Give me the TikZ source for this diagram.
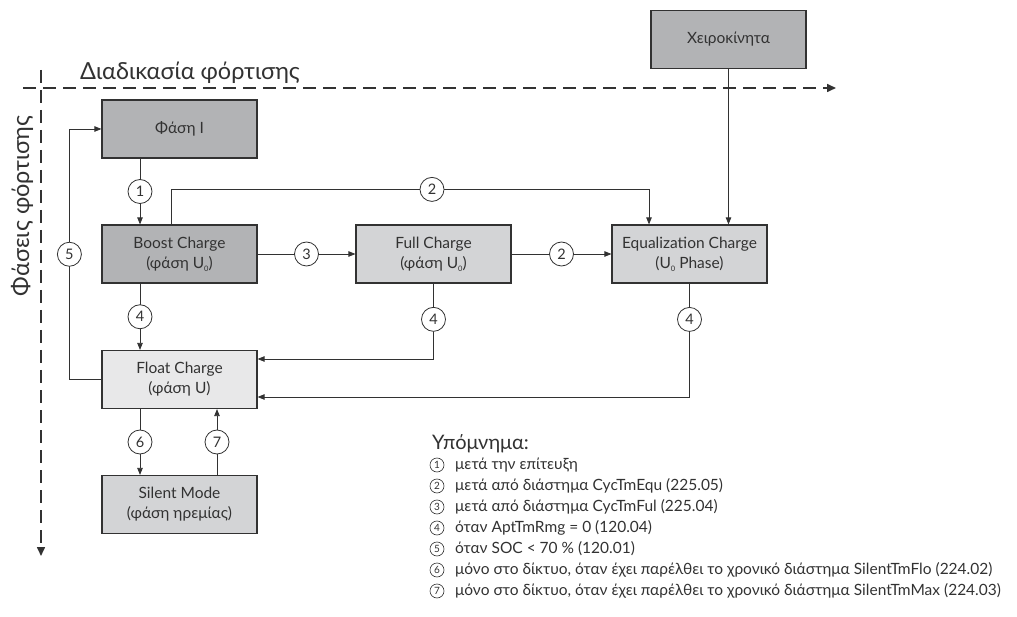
\documentclass[tikz,border=0pt]{standalone}
\usepackage{fontspec}
\setmainfont{Lato}
\usetikzlibrary{arrows.meta}
\definecolor{boxdark}{RGB}{178,179,181}
\definecolor{boxmid}{RGB}{211,212,214}
\definecolor{boxlight}{RGB}{232,232,233}
\definecolor{ink}{RGB}{50,50,50}
\newcommand{\usub}{U\raisebox{-0.35ex}{\fontsize{7.5}{7.5}\selectfont 0}}

\begin{document}
\begin{tikzpicture}[x=1pt,y=-1pt,
  phase/.style={draw=ink,line width=1.2pt,minimum width=155pt,minimum height=58pt,
    align=center,font=\fontsize{15.5}{20}\selectfont,text=ink},
  num/.style={circle,draw=ink,fill=white,line width=0.8pt,inner sep=0pt,
    minimum size=24pt,font=\fontsize{14.5}{14.5}\selectfont,text=ink},
  keynum/.style={circle,draw=ink,line width=0.6pt,inner sep=0pt,
    minimum size=14pt,font=\fontsize{10}{10}\selectfont,text=ink},
  keytext/.style={anchor=west,inner sep=0pt,font=\fontsize{15.5}{15.5}\selectfont,text=ink},
  flow/.style={draw=ink,line width=0.8pt,-{Triangle[length=7pt,width=5.5pt]}},
  axis/.style={draw=ink,line width=1.6pt,dash pattern=on 13pt off 7pt,
    -{Triangle[length=9pt,width=8pt]}}]
\useasboundingbox (0,0) rectangle (1017,617);

\node[phase,fill=boxdark] (phase1) at (179.5,129) {Φάση I};
\node[phase,fill=boxdark] (manual) at (728.5,39.5) {Χειροκίνητα};
\node[phase,fill=boxdark] (boost) at (179.5,254) {Boost Charge\\(φάση \usub)};
\node[phase,fill=boxmid] (full) at (433.5,254) {Full Charge\\(φάση \usub)};
\node[phase,fill=boxmid] (equal) at (689.5,254) {Equalization Charge\\(\usub{} Phase)};
\node[phase,fill=boxlight] (float) at (179.5,379.5) {Float Charge\\(φάση U)};
\node[phase,fill=boxmid] (silent) at (179.5,504.5) {Silent Mode\\(φάση ηρεμίας)};

\coordinate (hstart) at (23,88);
\coordinate (hend) at (836,88);
\coordinate (vstart) at (41,70);
\coordinate (vend) at (41,556);
\draw[axis] (hstart) -- (hend);
\draw[axis] (vstart) -- (vend);
\node[anchor=base west,inner sep=0pt,font=\fontsize{23.5}{23.5}\selectfont,text=ink] (proctitle) at (80,80) {Διαδικασία φόρτισης};
\node[rotate=90,inner sep=0pt,font=\fontsize{23.5}{23.5}\selectfont,text=ink] (phasetitle) at (22,206) {Φάσεις φόρτισης};

\draw[flow] ([xshift=-39.5pt]phase1.south) -- node[num]{1} ([xshift=-39.5pt]boost.north);
\draw[flow] ([xshift=-8.5pt]boost.north) -- ++(0,-35) -| node[num,pos=0.273]{2} ([xshift=-40.5pt]equal.north);
\draw[flow] (manual.south) -- (manual.south |- equal.north);
\draw[flow] (boost) -- node[num]{3} (full);
\draw[flow] (full) -- node[num]{2} (equal);
\draw[flow] ([xshift=-39.5pt]boost.south) -- node[num]{4} ([xshift=-39.5pt]float.north);
\draw[flow] (full.south) |- node[num,pos=0.237]{4} ([yshift=20.5pt]float.east);
\draw[flow] (equal.south) |- node[num,pos=0.158]{4} ([yshift=-17.5pt]float.east);
\draw[flow] (float.west) -- ++(-32,0) |- node[num,pos=0.25]{5} (phase1.west);
\draw[flow] ([xshift=-39.5pt]float.south) -- node[num]{6} ([xshift=-39.5pt]silent.north);
\draw[flow] ([xshift=37.5pt]silent.north) -- node[num]{7} ([xshift=37.5pt]float.south);

\node[anchor=base west,inner sep=0pt,font=\fontsize{20}{20}\selectfont,text=ink] (keyhead) at (432,449) {Υπόμνημα:};
\node[keynum] (key1) at (437,465) {1};
\node[keytext] (keyt1) at (455,465) {μετά την επίτευξη};
\node[keynum] (key2) at (437,486) {2};
\node[keytext] (keyt2) at (455,486) {μετά από διάστημα CycTmEqu (225.05)};
\node[keynum] (key3) at (437,507) {3};
\node[keytext] (keyt3) at (455,507) {μετά από διάστημα CycTmFul (225.04)};
\node[keynum] (key4) at (437,528) {4};
\node[keytext] (keyt4) at (455,528) {όταν AptTmRmg = 0 (120.04)};
\node[keynum] (key5) at (437,549) {5};
\node[keytext] (keyt5) at (455,549) {όταν SOC < 70 \% (120.01)};
\node[keynum] (key6) at (437,570) {6};
\node[keytext] (keyt6) at (455,570) {μόνο στο δίκτυο, όταν έχει παρέλθει το χρονικό διάστημα SilentTmFlo (224.02)};
\node[keynum] (key7) at (437,591) {7};
\node[keytext] (keyt7) at (455,591) {μόνο στο δίκτυο, όταν έχει παρέλθει το χρονικό διάστημα SilentTmMax (224.03)};
\end{tikzpicture}
\end{document}
